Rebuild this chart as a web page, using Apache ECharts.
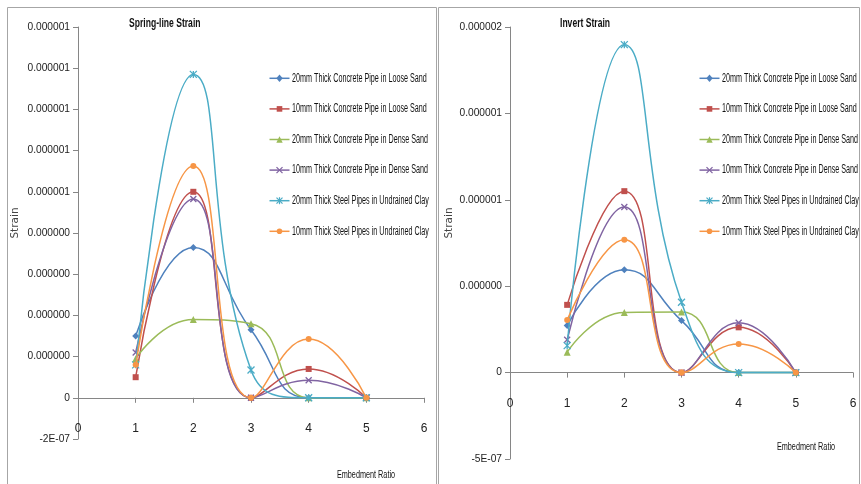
<!DOCTYPE html>
<html>
<head>
<meta charset="utf-8">
<script src="https://cdn.jsdelivr.net/npm/echarts@6/dist/echarts.min.js"></script>
<style>
  html, body { margin: 0; padding: 0; background: #fff; }
  #chart { width: 861px; height: 484px; }
</style>
</head>
<body>
<div id="chart"></div>
<script>
// Embedment ratios on the horizontal axis
const embedmentRatio = [1, 2, 3, 4, 5];

// Series names (shared by both panels)
const seriesNames = [
  '20mm Thick Concrete Pipe in Loose Sand',
  '10mm Thick Concrete Pipe in Loose Sand',
  '20mm Thick Concrete Pipe in Dense Sand',
  '10mm Thick Concrete Pipe in Dense Sand',
  '20mm Thick Steel Pipes in Undrained Clay',
  '10mm Thick Steel Pipes in Undrained Clay'
];

// Spring-line strain values
const springConcreteLoose20 = [3.0e-7, 7.3e-7, 3.3e-7, 0, 0];
const springConcreteLoose10 = [1.0e-7, 1.0e-6, 0, 1.4e-7, 0];
const springConcreteDense20 = [1.9e-7, 3.8e-7, 3.6e-7, 0, 0];
const springConcreteDense10 = [2.2e-7, 9.65e-7, 0, 8.5e-8, 0];
const springSteelClay20 = [1.6e-7, 1.57e-6, 1.35e-7, 0, 0];
const springSteelClay10 = [1.6e-7, 1.125e-6, 0, 2.85e-7, 0];

// Invert strain values
const invertConcreteLoose20 = [2.72e-7, 5.95e-7, 3.01e-7, 0, 0];
const invertConcreteLoose10 = [3.92e-7, 1.05e-6, 0, 2.62e-7, 0];
const invertConcreteDense20 = [1.18e-7, 3.48e-7, 3.5e-7, 0, 0];
const invertConcreteDense10 = [1.9e-7, 9.58e-7, 0, 2.88e-7, 0];
const invertSteelClay20 = [1.56e-7, 1.898e-6, 4.07e-7, 0, 0];
const invertSteelClay10 = [3.05e-7, 7.69e-7, 0, 1.66e-7, 0];

const springSets = [springConcreteLoose20, springConcreteLoose10, springConcreteDense20,
                    springConcreteDense10, springSteelClay20, springSteelClay10];
const invertSets = [invertConcreteLoose20, invertConcreteLoose10, invertConcreteDense20,
                    invertConcreteDense10, invertSteelClay20, invertSteelClay10];

// Axis ranges
const xMin = 0, xMax = 6, xStep = 1;
const springMin = -2e-7, springMax = 1.8e-6, springStep = 2e-7;
const invertMin = -5e-7, invertMax = 2e-6, invertStep = 5e-7;

const colors = ['#4F81BD', '#C0504D', '#9BBB59', '#8064A2', '#4BACC6', '#F79646'];
const symbols = [
  'diamond',
  'rect',
  'triangle',
  'path://M0,0L10,10M10,0L0,10',
  'path://M0,0L10,10M10,0L0,10M5,0L5,10',
  'circle'
];
const symbolSizes = [7, 6, 7, 6, 7, 6];

const FONT = '"Liberation Sans", Arial, sans-serif';
const SQUEEZE = 0.6;   // horizontal compression of the narrow chart lettering

// Tick labels: six fixed decimals (truncated), scientific for negatives
function fmtStrain(v) {
  if (Math.abs(v) < 1e-12) return '0';
  if (v < 0) {
    const e = Math.floor(Math.log10(-v) + 1e-9);
    const m = Math.round(-v / Math.pow(10, e));
    return '-' + m + 'E-' + String(-e).padStart(2, '0');
  }
  return (Math.floor(v * 1e6 + 1e-6) / 1e6).toFixed(6);
}

function makeSeries(sets, axisIndex) {
  return sets.map((vals, i) => ({
    name: seriesNames[i],
    type: 'line',
    xAxisIndex: axisIndex,
    yAxisIndex: axisIndex,
    smooth: 0.5,
    data: vals.map((v, k) => [embedmentRatio[k], v]),
    symbol: symbols[i],
    symbolSize: symbolSizes[i],
    showAllSymbol: true,
    lineStyle: { color: colors[i], width: 1.5 },
    itemStyle: { color: colors[i], borderColor: colors[i], borderWidth: (i === 3 || i === 4) ? 1.3 : 0 },
    emphasis: { disabled: true },
    z: 3 + i
  }));
}

function xAxisCfg(gridIndex, margin) {
  return {
    type: 'value', gridIndex, min: xMin, max: xMax, interval: xStep,
    axisLine: { onZero: true, lineStyle: { color: '#868686', width: 1 } },
    axisTick: { show: true, inside: false, length: 5, lineStyle: { color: '#868686' } },
    axisLabel: { margin, fontFamily: FONT, fontSize: 12, color: '#222' },
    splitLine: { show: false }
  };
}

function yAxisCfg(gridIndex, min, max, step) {
  return {
    type: 'value', gridIndex, min, max, interval: step,
    axisLine: { show: true, onZero: false, lineStyle: { color: '#868686', width: 1 } },
    axisTick: { show: true, inside: false, length: 5, lineStyle: { color: '#868686' } },
    axisLabel: { margin: 8, fontFamily: FONT, fontSize: 10.2, color: '#222', formatter: fmtStrain },
    splitLine: { show: false }
  };
}

// Legend marker shapes, built around (0,0)
function legendMarker(i, color) {
  const s = 3.2;
  const stroke = (x1, y1, x2, y2) => ({ type: 'line', shape: { x1, y1, x2, y2 }, style: { stroke: color, lineWidth: 1.2 } });
  switch (i) {
    case 0: return { type: 'polygon', shape: { points: [[0, -s - 0.6], [s, 0], [0, s + 0.6], [-s, 0]] }, style: { fill: color } };
    case 1: return { type: 'rect', shape: { x: -2.8, y: -2.8, width: 5.6, height: 5.6 }, style: { fill: color } };
    case 2: return { type: 'polygon', shape: { points: [[0, -s], [s, s], [-s, s]] }, style: { fill: color } };
    case 3: return { type: 'group', children: [stroke(-3, -3, 3, 3), stroke(3, -3, -3, 3)] };
    case 4: return { type: 'group', children: [stroke(-3, -3, 3, 3), stroke(3, -3, -3, 3), stroke(0, -3.5, 0, 3.5)] };
    default: return { type: 'circle', shape: { cx: 0, cy: 0, r: 2.8 }, style: { fill: color } };
  }
}

function legendGroup(left, top) {
  const rowGap = 30.6;
  return {
    type: 'group', x: left, y: top, silent: true,
    children: seriesNames.flatMap((name, i) => {
      const y = i * rowGap;
      const marker = legendMarker(i, colors[i]);
      marker.x = 10; marker.y = y;
      return [
        { type: 'line', shape: { x1: 0, y1: y, x2: 20, y2: y }, style: { stroke: colors[i], lineWidth: 1.5 } },
        marker,
        { type: 'text', x: 22.5, y: y, scaleX: SQUEEZE,
          style: { text: name, font: '12px ' + FONT, fill: '#111', align: 'left', verticalAlign: 'middle' } }
      ];
    })
  };
}

function squeezedText(text, x, y, size, bold, align) {
  return {
    type: 'text', x, y, scaleX: SQUEEZE + 0.06, silent: true,
    style: { text, font: (bold ? 'bold ' : '') + size + 'px ' + FONT, fill: '#111',
             align: align || 'center', verticalAlign: 'middle' }
  };
}

const chart = echarts.init(document.getElementById('chart'), null, { renderer: 'canvas' });
chart.setOption({
  animation: false,
  backgroundColor: '#ffffff',
  grid: [
    { left: 78, top: 27, width: 346, height: 412, containLabel: false, outerBoundsMode: 'none' },
    { left: 510, top: 27, width: 343, height: 432, containLabel: false, outerBoundsMode: 'none' }
  ],
  xAxis: [xAxisCfg(0, -16), xAxisCfg(1, -61)],
  yAxis: [yAxisCfg(0, springMin, springMax, springStep), yAxisCfg(1, invertMin, invertMax, invertStep)],
  series: makeSeries(springSets, 0).concat(makeSeries(invertSets, 1)),
  graphic: [
    { type: 'rect', shape: { x: 7.5, y: 7.5, width: 429, height: 480 },
      style: { fill: 'none', stroke: '#a6a6a6', lineWidth: 1 }, silent: true, z: -1 },
    { type: 'rect', shape: { x: 438.5, y: 7.5, width: 421, height: 480 },
      style: { fill: 'none', stroke: '#a6a6a6', lineWidth: 1 }, silent: true, z: -1 },
    squeezedText('Spring-line Strain', 129, 23, 13, true, 'left'),
    squeezedText('Invert Strain', 560, 23, 13, true, 'left'),
    legendGroup(269.5, 78.3),
    legendGroup(699.5, 78.3),
    { type: 'text', x: 15, y: 223, rotation: Math.PI / 2, silent: true,
      style: { text: 'Strain', font: '10.5px "DejaVu Sans", sans-serif', fill: '#444', align: 'center', verticalAlign: 'middle' } },
    { type: 'text', x: 449, y: 223, rotation: Math.PI / 2, silent: true,
      style: { text: 'Strain', font: '10.5px "DejaVu Sans", sans-serif', fill: '#444', align: 'center', verticalAlign: 'middle' } },
    squeezedText('Embedment Ratio', 366, 475, 11, false),
    squeezedText('Embedment Ratio', 806, 447, 11, false)
  ]
});
</script>
</body>
</html>
